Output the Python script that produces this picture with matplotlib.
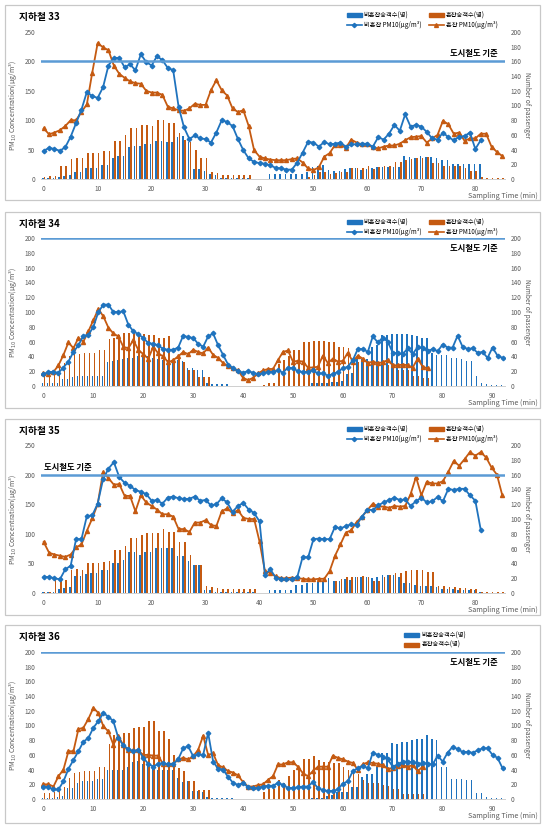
import matplotlib
matplotlib.use("Agg")
from matplotlib import pyplot as plt
from matplotlib.patches import Rectangle
from matplotlib.lines import Line2D
from matplotlib.ticker import MultipleLocator
import numpy as np

plt.rcParams['font.family'] = ['Noto Sans CJK KR', 'DejaVu Sans']

BLUE = '#1F73BE'
ORANGE = '#C55A11'
STD_BLUE = '#5B9BD5'
GRAY = '#595959'

# ---- 지하철 33 ----
s33_pm_n = [48, 53, 51, 48, 54, 72, 95, 118, 148, 141, 138, 156, 193, 206, 206, 190, 195, 185, 212, 199,
            193, 209, 202, 189, 185, 123, 88, 68, 74, 69, 68, 62, 79, 100, 97, 90, 68, 49, 35, 29,
            27, 26, 23, 19, 18, 16, 16, 28, 45, 63, 62, 55, 63, 59, 60, 62, 55, 59, 59, 60,
            60, 55, 71, 67, 77, 92, 82, 110, 89, 92, 89, 80, 69, 67, 79, 71, 66, 72, 73, 79,
            51, 66]
s33_pm_c = [86, 76, 79, 83, 90, 100, 100, 114, 127, 181, 231, 224, 219, 193, 179, 172, 166, 163, 162, 150,
            147, 147, 143, 123, 120, 117, 116, 120, 128, 126, 126, 151, 168, 151, 142, 120, 114, 117, 90, 49,
            38, 35, 33, 32, 32, 32, 34, 35, 28, 18, 15, 20, 38, 44, 58, 58, 53, 67, 62, 59,
            59, 54, 52, 55, 57, 57, 60, 66, 71, 72, 73, 62, 69, 75, 99, 93, 77, 79, 65, 69,
            69, 77, 77, 55, 46, 39]
s33_pax_n = [2, 2, 2, 3, 4, 5, 10, 10, 15, 15, 15, 19, 19, 28, 31, 31, 43, 45, 45, 47,
             48, 52, 52, 51, 51, 57, 58, 51, 14, 14, 11, 7, 6, 2, 2, 2, 2, 2, 2, 0,
             0, 0, 7, 7, 7, 7, 7, 7, 7, 9, 17, 18, 19, 12, 11, 11, 14, 15, 15, 12,
             13, 15, 16, 17, 16, 16, 17, 31, 30, 29, 31, 30, 30, 28, 26, 26, 21, 21, 21, 21,
             21, 21, 0, 0, 0, 0]
s33_pax_c = [3, 4, 4, 18, 18, 27, 29, 29, 36, 36, 36, 38, 38, 52, 52, 60, 69, 69, 74, 74,
             72, 80, 80, 76, 76, 62, 53, 51, 40, 29, 29, 9, 8, 5, 5, 5, 5, 5, 5, 0,
             0, 0, 0, 0, 0, 0, 0, 0, 0, 3, 5, 9, 9, 7, 8, 9, 9, 15, 15, 15,
             18, 13, 17, 18, 18, 23, 23, 26, 27, 29, 29, 30, 22, 22, 18, 18, 18, 18, 15, 11,
             11, 3, 2, 2, 2, 2]

# ---- 지하철 34 ----
s34_pm_n = [16, 19, 19, 18, 25, 33, 46, 55, 68, 69, 80, 100, 110, 110, 100, 100, 101, 83, 74, 70,
            65, 58, 57, 55, 50, 49, 49, 52, 68, 66, 65, 57, 53, 67, 71, 55, 42, 29, 24, 20,
            18, 20, 18, 16, 17, 19, 19, 21, 18, 25, 24, 20, 19, 19, 21, 17, 17, 14, 16, 19,
            24, 26, 35, 50, 50, 46, 67, 59, 65, 60, 45, 44, 43, 51, 43, 53, 51, 47, 50, 47,
            56, 52, 52, 68, 53, 50, 51, 45, 46, 38, 52, 41, 38]
s34_pm_c = [17, 16, 19, 28, 42, 59, 51, 65, 60, 74, 89, 104, 94, 79, 71, 67, 53, 51, 62, 49,
            43, 37, 53, 44, 40, 32, 35, 40, 46, 43, 49, 46, 44, 52, 42, 38, 31, 27, 24, 21,
            11, 8, 11, 17, 21, 23, 23, 35, 46, 48, 33, 34, 33, 25, 25, 26, 41, 31, 37, 33,
            34, 45, 33, 41, 37, 31, 33, 31, 32, 35, 28, 28, 29, 28, 25, 37, 26, 24]
s34_pax_n = [4, 4, 4, 4, 9, 10, 12, 13, 14, 14, 14, 14, 14, 32, 34, 35, 37, 38, 38, 40,
             40, 40, 38, 37, 35, 35, 34, 35, 34, 25, 25, 21, 21, 4, 3, 3, 3, 3, 0, 0,
             0, 0, 0, 0, 0, 0, 0, 0, 0, 0, 0, 0, 0, 0, 4, 4, 4, 4, 5, 6,
             7, 16, 17, 37, 37, 37, 53, 55, 69, 69, 70, 70, 70, 70, 69, 68, 65, 65, 44, 42,
             42, 42, 38, 38, 37, 34, 34, 13, 4, 3, 2, 2, 2]
s34_pax_c = [15, 15, 15, 24, 31, 40, 43, 43, 45, 45, 45, 48, 48, 64, 65, 69, 72, 71, 72, 70,
             70, 69, 69, 65, 65, 67, 37, 37, 33, 22, 22, 12, 12, 12, 0, 0, 0, 0, 0, 0,
             0, 0, 0, 0, 2, 4, 4, 30, 35, 40, 48, 48, 60, 60, 61, 61, 61, 60, 60, 53,
             53, 52, 33, 33, 33, 32, 32, 29, 29, 29, 29, 21, 21, 21, 13, 13, 11, 11]

# ---- 지하철 35 ----
s35_pm_n = [27, 27, 25, 23, 40, 46, 91, 91, 130, 131, 151, 192, 210, 221, 196, 186, 181, 174, 171, 167,
            156, 157, 151, 161, 163, 160, 159, 159, 163, 156, 157, 148, 150, 160, 153, 137, 147, 152, 141, 135,
            121, 31, 40, 26, 23, 23, 23, 27, 61, 60, 91, 92, 91, 91, 112, 109, 113, 116, 115, 129,
            141, 140, 148, 153, 157, 161, 157, 158, 147, 155, 161, 153, 155, 162, 155, 176, 174, 176, 176, 165,
            156, 107]
s35_pm_c = [86, 68, 65, 63, 61, 65, 77, 82, 105, 126, 150, 204, 194, 183, 184, 164, 164, 138, 165, 153,
            147, 141, 133, 133, 129, 108, 108, 103, 119, 119, 123, 115, 113, 138, 143, 135, 140, 127, 125, 125,
            87, 37, 34, 28, 25, 25, 26, 25, 24, 23, 23, 24, 24, 37, 63, 82, 102, 106, 120, 129,
            140, 151, 146, 146, 144, 147, 146, 147, 167, 196, 165, 188, 185, 185, 189, 205, 223, 215, 226, 238,
            232, 238, 229, 212, 200, 165]
s35_pax_n = [2, 2, 2, 6, 7, 8, 23, 23, 26, 27, 27, 31, 31, 41, 41, 45, 56, 56, 52, 56,
             56, 61, 61, 61, 61, 50, 50, 43, 38, 38, 4, 4, 2, 1, 1, 1, 1, 1, 1, 1,
             0, 0, 4, 4, 4, 4, 4, 11, 11, 13, 13, 15, 16, 20, 16, 16, 19, 18, 21, 21,
             21, 20, 21, 24, 24, 24, 21, 13, 13, 11, 10, 10, 9, 8, 6, 6, 6, 4, 4, 4,
             4, 2, 0, 0, 0, 0]
s35_pax_c = [2, 2, 17, 18, 18, 31, 32, 31, 41, 41, 41, 42, 43, 58, 58, 63, 74, 74, 79, 81,
             81, 81, 86, 82, 82, 69, 69, 51, 38, 38, 10, 8, 7, 6, 6, 6, 6, 6, 6, 6,
             0, 0, 0, 0, 0, 0, 0, 0, 0, 0, 0, 0, 0, 0, 16, 19, 22, 21, 22, 23,
             22, 16, 16, 22, 25, 27, 27, 30, 31, 31, 31, 28, 28, 10, 9, 8, 8, 7, 7, 6,
             6, 2, 2, 2, 2, 2]

# ---- 지하철 36 ----
s36_pm_n = [17, 16, 13, 13, 24, 41, 53, 65, 78, 83, 97, 106, 117, 112, 106, 83, 73, 68, 65, 67,
            56, 48, 44, 48, 49, 47, 48, 54, 69, 72, 58, 61, 60, 90, 51, 41, 40, 30, 22, 19,
            22, 16, 15, 15, 17, 18, 18, 22, 19, 15, 15, 16, 17, 17, 23, 15, 12, 11, 11, 13,
            21, 24, 38, 42, 45, 42, 63, 60, 57, 54, 44, 47, 51, 51, 50, 48, 49, 48, 47, 59,
            51, 63, 71, 68, 64, 64, 63, 66, 69, 69, 60, 56, 42]
s36_pm_c = [20, 20, 17, 31, 40, 65, 65, 95, 97, 109, 124, 117, 99, 92, 74, 86, 73, 66, 66, 66,
            60, 60, 59, 59, 47, 48, 48, 54, 56, 54, 58, 67, 86, 60, 62, 46, 43, 38, 36, 32,
            23, 17, 17, 19, 20, 26, 31, 47, 47, 50, 50, 44, 35, 31, 38, 44, 44, 44, 59, 56,
            54, 51, 49, 40, 47, 50, 49, 48, 46, 41, 42, 45, 46, 44, 46, 38, 44]
s36_pax_n = [1, 1, 1, 3, 4, 15, 15, 22, 25, 25, 25, 27, 27, 40, 40, 39, 39, 43, 51, 52,
             48, 48, 42, 39, 40, 40, 40, 29, 23, 24, 11, 11, 10, 3, 1, 1, 1, 1, 1, 0,
             0, 0, 0, 0, 0, 0, 0, 0, 0, 0, 0, 0, 0, 0, 2, 2, 2, 4, 6, 9,
             9, 10, 17, 17, 30, 34, 34, 44, 63, 63, 76, 75, 78, 78, 80, 82, 82, 87, 81, 80,
             44, 44, 27, 27, 27, 26, 26, 8, 8, 3, 1, 1, 1]
s36_pax_c = [8, 8, 10, 13, 17, 28, 36, 37, 38, 38, 38, 44, 44, 75, 87, 85, 90, 90, 97, 98,
             98, 106, 106, 93, 93, 82, 60, 42, 38, 24, 24, 12, 12, 12, 0, 0, 0, 0, 0, 0,
             0, 0, 0, 0, 9, 13, 13, 26, 22, 31, 40, 44, 54, 54, 58, 53, 51, 51, 49, 49,
             44, 39, 34, 34, 26, 22, 22, 22, 19, 18, 14, 14, 7, 7, 7, 7, 7]

panels = [
    dict(title='지하철 33', n_x=86, pm_n=s33_pm_n, pm_c=s33_pm_c, pax_n=s33_pax_n, pax_c=s33_pax_c,
         left_max=250, left_step=50, box=(5, 200), plot=(32, 179), std_pos='above_right', full_legend=True),
    dict(title='지하철 34', n_x=93, pm_n=s34_pm_n, pm_c=s34_pm_c, pax_n=s34_pax_n, pax_c=s34_pax_c,
         left_max=200, left_step=20, box=(212, 408), plot=(238, 386), std_pos='below_right', full_legend=True),
    dict(title='지하철 35', n_x=86, pm_n=s35_pm_n, pm_c=s35_pm_c, pax_n=s35_pax_n, pax_c=s35_pax_c,
         left_max=250, left_step=50, box=(419, 615), plot=(445, 593), std_pos='above_left', full_legend=True),
    dict(title='지하철 36', n_x=93, pm_n=s36_pm_n, pm_c=s36_pm_c, pax_n=s36_pax_n, pax_c=s36_pax_c,
         left_max=200, left_step=20, box=(625, 823), plot=(652, 799), std_pos='below_right', full_legend=False),
]

W, H = 550, 827
fig = plt.figure(figsize=(W / 100, H / 100), dpi=100)


def fx(px):
    return px / W


def fy(py):
    return 1 - py / H


AX_L, AX_R = 41, 505

for p in panels:
    b0, b1 = p['box']
    fig.patches.append(Rectangle((fx(5), fy(b1)), fx(540 - 5), (b1 - b0) / H, transform=fig.transFigure,
                                 fill=False, edgecolor='#C8C8C8', linewidth=0.9))
    t0, t1 = p['plot']
    ax = fig.add_axes([fx(AX_L), fy(t1), fx(AX_R - AX_L), (t1 - t0) / H])
    axp = ax.twinx()

    xn = np.arange(len(p['pax_n']))
    xc = np.arange(len(p['pax_c']))
    ax.bar(xn - 0.18, p['pax_n'], width=0.3, color=BLUE, linewidth=0, zorder=2)
    ax.bar(xc + 0.18, p['pax_c'], width=0.3, color=ORANGE, linewidth=0, zorder=2)
    ax.set_ylim(0, 200)
    ax.set_xlim(-0.5, p['n_x'] - 0.5)
    ax.yaxis.tick_right()
    ax.yaxis.set_label_position('right')
    ax.yaxis.set_major_locator(MultipleLocator(20))
    ax.yaxis.set_minor_locator(MultipleLocator(200 * p['left_step'] / p['left_max']))
    ax.grid(axis='y', which='minor', color='#E3E3E3', linewidth=0.6, zorder=0)
    ax.set_axisbelow(True)
    ax.set_ylabel('Number of passenger', rotation=270, labelpad=7, fontsize=4.8, color=GRAY)

    axp.yaxis.tick_left()
    axp.yaxis.set_label_position('left')
    axp.plot(np.arange(len(p['pm_n'])), p['pm_n'], color=BLUE, lw=1.3, marker='D', ms=2.3, zorder=4)
    axp.plot(np.arange(len(p['pm_c'])), p['pm_c'], color=ORANGE, lw=1.3, marker='^', ms=2.9, zorder=3)
    axp.axhline(200, color=STD_BLUE, lw=1.8, zorder=5)
    axp.set_ylim(0, p['left_max'])
    axp.yaxis.set_major_locator(MultipleLocator(p['left_step']))
    axp.set_ylabel('PM$_{10}$ Concentration(μg/m³)', fontsize=5, color=GRAY, labelpad=4)

    ax.set_xticks(np.arange(0, p['n_x'], 10))
    for a in (ax, axp):
        a.tick_params(length=0, labelsize=4.6, labelcolor=GRAY, pad=4)
        for s in ('left', 'right', 'top'):
            a.spines[s].set_visible(False)
        a.spines['bottom'].set_color('#D0D0D0')
        a.spines['bottom'].set_linewidth(0.7)
    axp.set_xlim(-0.5, p['n_x'] - 0.5)

    # x label
    fig.text(fx(538), fy(t1 + 17), 'Sampling Time (min)', ha='right', va='center', fontsize=5.2, color=GRAY)
    # title
    fig.text(fx(19), fy(b0 + 12), p['title'], ha='left', va='center', fontsize=7, fontweight='bold')

    # standard label
    if p['std_pos'] == 'above_right':
        axp.text(0.985, 200 + p['left_max'] * 0.02, '도시철도 기준', transform=axp.get_yaxis_transform(),
                 ha='right', va='bottom', fontsize=6, fontweight='bold')
    elif p['std_pos'] == 'below_right':
        axp.text(0.985, 200 - p['left_max'] * 0.04, '도시철도 기준', transform=axp.get_yaxis_transform(),
                 ha='right', va='top', fontsize=6, fontweight='bold')
    else:
        axp.text(0.006, 200 + p['left_max'] * 0.02, '도시철도 기준', transform=axp.get_yaxis_transform(),
                 ha='left', va='bottom', fontsize=6, fontweight='bold')

    h_bn = Rectangle((0, 0), 1, 1, color=BLUE)
    h_bc = Rectangle((0, 0), 1, 1, color=ORANGE)
    h_ln = Line2D([], [], color=BLUE, lw=1.2, marker='D', ms=2.2)
    h_lc = Line2D([], [], color=ORANGE, lw=1.2, marker='^', ms=2.8)
    if p['full_legend']:
        fig.legend([h_bn, h_ln, h_bc, h_lc],
                   ['비혼잡승객수(명)', '비혼잡 PM10(μg/m³)', '혼잡승객수(명)', '혼잡 PM10(μg/m³)'],
                   ncol=2, loc='upper right', bbox_to_anchor=(fx(502), fy(b0 + 2)), frameon=False,
                   fontsize=4.5, handlelength=2.4, handleheight=0.5, columnspacing=1.2,
                   handletextpad=0.3, labelspacing=0.25, borderpad=0.2)
    else:
        fig.legend([h_bn, h_bc], ['비혼잡승객수(명)', '혼잡승객수(명)'],
                   ncol=1, loc='upper left', bbox_to_anchor=(fx(400), fy(b0 + 2)), frameon=False,
                   fontsize=4.5, handlelength=2.4, handleheight=0.5,
                   handletextpad=0.3, labelspacing=0.25, borderpad=0.2)

fig.savefig('out.png', dpi=100, facecolor='white')
